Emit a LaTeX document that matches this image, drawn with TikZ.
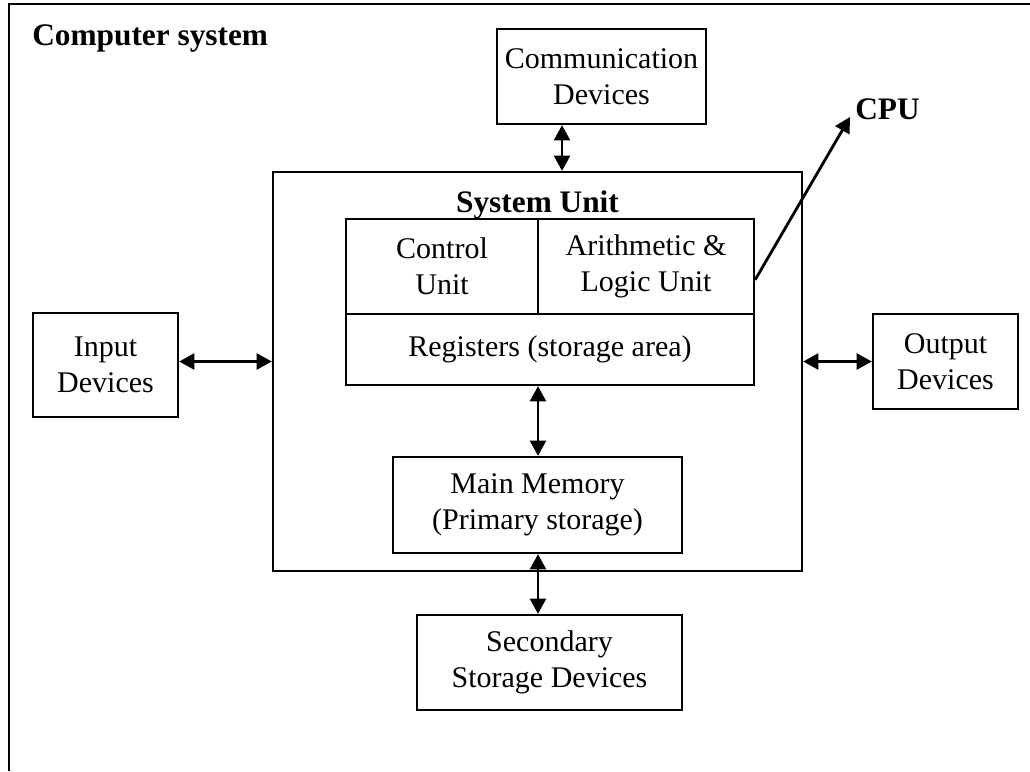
\documentclass[tikz,border=0pt]{standalone}
\usepackage{fontspec}
\setmainfont{Liberation Serif}
\usetikzlibrary{arrows.meta,calc}
\begin{document}
\begin{tikzpicture}[x=0.75pt,y=-0.75pt,
  box/.style={draw,line width=1.7pt,align=center,inner sep=0pt,font=\fontsize{22.5}{27}\selectfont},
  head/.style={inner sep=0pt,font=\fontsize{23.5}{28}\selectfont\bfseries},
  biarrow/.style={line width=2.1pt,{Triangle[length=11.5pt,width=12pt]}-{Triangle[length=11.5pt,width=12pt]}},
  onearrow/.style={line width=2.1pt,-{Triangle[length=11.5pt,width=12pt]}}]
\useasboundingbox (0,0) rectangle (1030,771);
\draw[line width=1.7pt] (9,771) -- (9,4) -- (1030,4);
\node[head,anchor=base west] (title) at (32,45) {Computer system};
% boxes
\node[box,minimum width=209*0.75pt,minimum height=95*0.75pt] (comm) at (601.5,76.5) {Communication\\Devices};
\node[box,minimum width=529*0.75pt,minimum height=399*0.75pt] (sys) at (537.5,371.5) {};
\node[head,anchor=base] (systitle) at (537.5,212) {System Unit};
\node[box,minimum width=192*0.75pt,minimum height=95*0.75pt] (cu) at (442,266.5) {Control\\Unit};
\node[box,minimum width=216*0.75pt,minimum height=95*0.75pt] (alu) at (646,266.5) {Arithmetic \&\\Logic Unit};
\node[box,minimum width=408*0.75pt,minimum height=71*0.75pt] (reg) at (550,349.5) {Registers (storage area)};
\node[box,minimum width=289*0.75pt,minimum height=96*0.75pt] (mem) at (537.5,505) {Main Memory\\(Primary storage)};
\node[box,minimum width=265*0.75pt,minimum height=95*0.75pt] (sec) at (549.5,662.5) {Secondary\\Storage Devices};
\node[box,minimum width=145*0.75pt,minimum height=104*0.75pt] (in) at (105.5,365) {Input\\Devices};
\node[box,minimum width=145*0.75pt,minimum height=95*0.75pt] (out) at (945.5,361.5) {Output\\Devices};
\node[head,anchor=base west] (cpu) at (855,119) {CPU};
% connectors
\coordinate (cx) at (562,0);
\coordinate (mx) at (538,0);
\coordinate (ly) at (0,361.5);
\coordinate (cputip) at (850,117);
\draw[biarrow] (comm.south -| cx) -- (sys.north -| cx);
\draw[biarrow] (in.east |- ly) -- (sys.west |- ly);
\draw[biarrow] (sys.east |- ly) -- (out.west |- ly);
\draw[biarrow] (reg.south -| mx) -- (mem.north -| mx);
\draw[biarrow] (mem.south -| mx) -- (sec.north -| mx);
\draw[onearrow] ([yshift=-10pt]alu.east) -- (cputip);
\end{tikzpicture}
\end{document}
